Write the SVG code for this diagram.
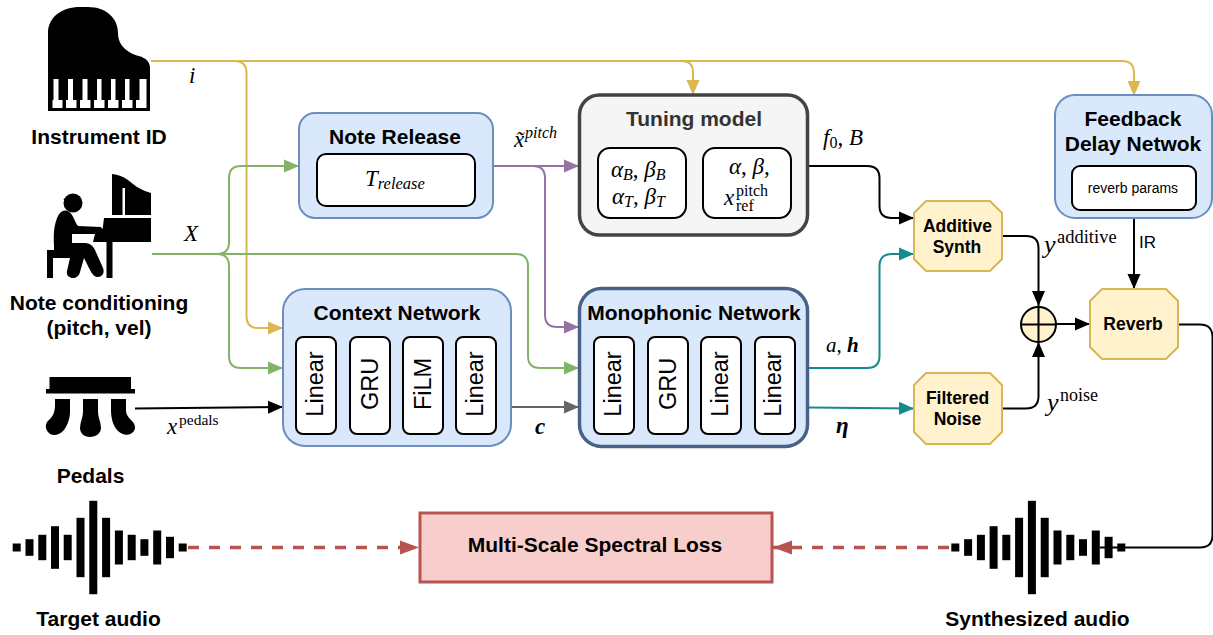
<svg xmlns="http://www.w3.org/2000/svg" width="1213" height="635" viewBox="0 0 1213 635">
<style>
text{font-family:"Liberation Sans",Arial,sans-serif;fill:#000}
.t{font-weight:bold;text-anchor:middle}
.m{font-family:"Liberation Serif","DejaVu Serif",serif;font-style:italic;font-size:23px}
.r{font-family:"Liberation Serif","DejaVu Serif",serif;font-style:normal}
.blue{fill:#dae8fc;stroke:#6c8ebf;stroke-width:2}
.in{fill:#fff;stroke:#000;stroke-width:2}
.oct{fill:#fff2cc;stroke:#d6b656;stroke-width:2}
.c{fill:none;stroke-width:2}
.l{font-size:23.5px;text-anchor:middle}
.b{fill:#000}
</style>
<defs>
<marker id="ak" markerUnits="userSpaceOnUse" markerWidth="16" markerHeight="14" refX="15" refY="7" orient="auto"><path d="M0,0.5 L15,7 L0,13.5Z" fill="#000"/></marker>
<marker id="ay" markerUnits="userSpaceOnUse" markerWidth="16" markerHeight="14" refX="15" refY="7" orient="auto"><path d="M0,0.5 L15,7 L0,13.5Z" fill="#dcb651"/></marker>
<marker id="ag" markerUnits="userSpaceOnUse" markerWidth="16" markerHeight="14" refX="15" refY="7" orient="auto"><path d="M0,0.5 L15,7 L0,13.5Z" fill="#82b366"/></marker>
<marker id="ap" markerUnits="userSpaceOnUse" markerWidth="16" markerHeight="14" refX="15" refY="7" orient="auto"><path d="M0,0.5 L15,7 L0,13.5Z" fill="#9673a6"/></marker>
<marker id="at" markerUnits="userSpaceOnUse" markerWidth="16" markerHeight="14" refX="15" refY="7" orient="auto"><path d="M0,0.5 L15,7 L0,13.5Z" fill="#128a8e"/></marker>
<marker id="an" markerUnits="userSpaceOnUse" markerWidth="16" markerHeight="14" refX="15" refY="7" orient="auto"><path d="M0,0.5 L15,7 L0,13.5Z" fill="#666"/></marker>
<marker id="ar" markerUnits="userSpaceOnUse" markerWidth="20" markerHeight="16" refX="19" refY="8" orient="auto"><path d="M0,1 L19,8 L0,15Z" fill="#b85450"/></marker>
<g id="wave" class="b">
<rect x="0" y="-4" width="8" height="8"/><rect x="12.8" y="-8.3" width="8" height="16.6"/><rect x="25.6" y="-12.7" width="8" height="25.4"/><rect x="38.3" y="-21.3" width="8" height="42.6"/><rect x="51" y="-12.7" width="8" height="25.4"/><rect x="63.8" y="-29.7" width="8" height="59.4"/><rect x="76.6" y="-46.7" width="8" height="93.4"/><rect x="89.4" y="-29.7" width="8" height="59.4"/><rect x="102.2" y="-17" width="8" height="34"/><rect x="115" y="-12.7" width="8" height="25.4"/><rect x="127.7" y="-8.3" width="8" height="16.6"/><rect x="140.5" y="-17" width="8" height="34"/><rect x="153.3" y="-10.7" width="8" height="21.4"/><rect x="166" y="-4" width="8" height="8"/>
</g>
</defs>

<g id="connectors">
<path class="c" stroke="#dcb651" d="M151,61 H234 Q246.5,61 246.5,73 V316 Q246.5,328 258,328 H283" marker-end="url(#ay)"/>
<path class="c" stroke="#dcb651" d="M220,61 H682 Q693,61 693,72 V95" marker-end="url(#ay)"/>
<path class="c" stroke="#dcb651" d="M680,61 H1122 Q1134,61 1134,73 V96" marker-end="url(#ay)"/>
<path class="c" stroke="#82b366" d="M152,254 H217 Q229,254 229,242 V178 Q229,166 241,166 H299" marker-end="url(#ag)"/>
<path class="c" stroke="#82b366" d="M152,254 H217 Q229,254 229,266 V356 Q229,368 241,368 H283" marker-end="url(#ag)"/>
<path class="c" stroke="#82b366" d="M200,254 H516 Q528,254 528,266 V356 Q528,368 540,368 H579" marker-end="url(#ag)"/>
<path class="c" stroke="#9673a6" d="M493,166 H579" marker-end="url(#ap)"/>
<path class="c" stroke="#9673a6" d="M530,166 H533 Q545,166 545,178 V315 Q545,327 557,327 H579" marker-end="url(#ap)"/>
<path class="c" stroke="#000" d="M135,408.5 L283,407" marker-end="url(#ak)"/>
<path class="c" stroke="#666" d="M511,407 H579" marker-end="url(#an)"/>
<path class="c" stroke="#000" d="M809,166 H867 Q879.5,166 879.5,178 V206 Q879.5,218 892,218 H914" marker-end="url(#ak)"/>
<path class="c" stroke="#128a8e" d="M809,368 H867 Q879.5,368 879.5,356 V266 Q879.5,254 892,254 H914" marker-end="url(#at)"/>
<path class="c" stroke="#128a8e" d="M809,407.5 L914,408.5" marker-end="url(#at)"/>
<path class="c" stroke="#000" d="M1002,236 H1026 Q1038.5,236 1038.5,248 V306" marker-end="url(#ak)"/>
<path class="c" stroke="#000" d="M1002,408.5 H1026 Q1038.5,408.5 1038.5,396 V342" marker-end="url(#ak)"/>
<path class="c" stroke="#000" d="M1056,324 H1090" marker-end="url(#ak)"/>
<path class="c" stroke="#000" d="M1134,218 V289" marker-end="url(#ak)"/>
<path class="c" stroke="#000" d="M1178,324.5 H1200 Q1212.5,324.5 1212.5,337 V535 Q1212.5,547.5 1200,547.5 H1100"/>
<path fill="none" stroke="#b85450" stroke-width="3.5" stroke-dasharray="11 10" d="M188,547.5 H419" marker-end="url(#ar)"/>
<path fill="none" stroke="#b85450" stroke-width="3.5" stroke-dasharray="11 10" d="M949,547.5 H773" marker-end="url(#ar)"/>
</g>

<g id="instrument">
<path class="b" d="M48,111 V33 C48,17 62,7 80,7 H88 C106,7 118,18 118,33 C118,46 128,53 139,56 C146,58 150,62 150,68 V111Z"/>
<path fill="#fff" d="M52.5,100 H53.5 V79 H58.5 V100 H62.5 V108 H52.5Z M66,100 H68 V79 H73 V100 H76.5 V108 H66Z M80,100 H82.5 V79 H87.5 V100 H90.5 V108 H80Z M94,100 H97 V79 H101.5 V100 H104.5 V108 H94Z M108,100 H111 V79 H115.5 V100 H118.5 V108 H108Z M122,100 H125 V79 H129.5 V100 H132.5 V108 H122Z M136,100 H139.5 V79 H146.5 V108 H136Z"/>
<text class="t" x="99" y="144" font-size="21">Instrument ID</text>
</g>

<g id="note-conditioning">
<path class="b" d="M112,174 C125,175 131,183 137,187 C142,190 147,192 151,193 V215 H125 V188 H122.5 V215 H112Z"/>
<path class="b" d="M104,218 H151 V242 H112.5 V278 H106.5 V242 H93 L95,234 C100,233 103,230 103,226Z"/>
<ellipse class="b" cx="73" cy="203" rx="9.5" ry="9.5"/>
<path class="b" d="M63.5,199 L74,194 L76,208 L68,208Z"/>
<path class="b" d="M54,245 C53,232 55,219 60,213 C64,209 69,210 72,215 C75,220 76,224 78,226 L101,227 L104,232 L97,234 L72,234 V243 H85 C90,243 93,246 95,250 L103,268 C105,273 102,277 98,277 C95,277 93,275 91,272 L84,258 L80,272 C79,276 76,278 73,278 C69,278 66,275 67,271 L70,258 H54Z"/>
<path class="b" d="M47,250 H70 V258 H53 V278 H47Z"/>
<text class="t" x="99" y="310" font-size="21">Note conditioning</text>
<text class="t" x="99" y="335" font-size="21">(pitch, vel)</text>
</g>

<g id="pedals">
<rect class="b" x="49.5" y="377" width="81.5" height="12"/>
<rect class="b" x="46" y="389" width="89" height="4.5"/>
<path class="b" d="M55,399 H70 V412 C70,420 66,428 63,431 C58,436 51,436 48,432 C44,427 46,422 50,419 C54,415 55,410 55,405Z"/>
<path class="b" d="M83,399 H98 V412 C98,417 101,423 101,428 C101,433 96,437 90,437 C84,437 80,433 80,428 C80,423 83,417 83,412Z"/>
<path class="b" d="M111,399 H126 V410 C126,415 129,418 132,421 C136,425 136,430 132,433 C128,436 122,435 118,431 C113,426 111,418 111,410Z"/>
<text class="t" x="90.5" y="483" font-size="21">Pedals</text>
</g>

<g id="note-release">
<rect class="blue" x="299" y="113" width="194" height="105" rx="16"/>
<rect class="in" x="317" y="154" width="158" height="52" rx="9"/>
<text class="t" x="395" y="144" font-size="21">Note Release</text>
<text class="m" x="365" y="186">T<tspan font-size="16.5" dy="3" style="font-size:16.5px">release</tspan></text>
</g>

<g id="tuning-model">
<rect x="579.5" y="95" width="228" height="140" rx="20" fill="#f5f5f5" stroke="#444" stroke-width="3.5"/>
<rect class="in" x="598" y="148" width="88" height="70" rx="12"/>
<rect class="in" x="703" y="148" width="88" height="70" rx="12"/>
<text class="t" x="694" y="126" font-size="21" style="fill:#333">Tuning model</text>
<text class="m" x="611" y="177">α<tspan font-size="16" dy="3">B</tspan><tspan dy="-3" class="r">, </tspan>β<tspan font-size="16" dy="3">B</tspan></text>
<text class="m" x="612" y="204">α<tspan font-size="16" dy="3">T</tspan><tspan dy="-3" class="r">, </tspan>β<tspan font-size="16" dy="3">T</tspan></text>
<text class="m" x="729" y="174">α<tspan class="r">, </tspan>β<tspan class="r">,</tspan></text>
<text class="m" x="724" y="205">x</text>
<text class="r" x="736" y="196" font-size="16">pitch</text>
<text class="r" x="736" y="211" font-size="16">ref</text>
</g>

<g id="feedback-delay-network">
<rect class="blue" x="1055" y="95" width="157" height="123" rx="20"/>
<rect class="in" x="1072" y="166" width="124" height="44" rx="8"/>
<text class="t" x="1133" y="125.5" font-size="21">Feedback</text>
<text class="t" x="1133" y="150.5" font-size="21">Delay Netwok</text>
<text x="1133" y="193" font-size="14" text-anchor="middle">reverb params</text>
</g>

<g id="context-network">
<rect class="blue" x="283" y="289" width="228" height="157" rx="22"/>
<text class="t" x="397" y="320" font-size="21">Context Network</text>
<rect class="in" x="296" y="337" width="40" height="97" rx="7"/>
<rect class="in" x="350" y="337" width="40" height="97" rx="7"/>
<rect class="in" x="403" y="337" width="40" height="97" rx="7"/>
<rect class="in" x="456" y="337" width="40" height="97" rx="7"/>
<text class="l" transform="translate(323,384) rotate(-90)">Linear</text>
<text class="l" transform="translate(378,384) rotate(-90)">GRU</text>
<text class="l" transform="translate(431,384) rotate(-90)">FiLM</text>
<text class="l" transform="translate(483,384) rotate(-90)">Linear</text>
</g>

<g id="monophonic-network">
<rect x="579.5" y="288.5" width="228" height="158" rx="22" fill="#dae8fc" stroke="#4a6288" stroke-width="3.5"/>
<text class="t" x="694" y="320" font-size="21">Monophonic Network</text>
<rect class="in" x="594" y="337" width="40" height="97" rx="7"/>
<rect class="in" x="648" y="337" width="40" height="97" rx="7"/>
<rect class="in" x="701" y="337" width="40" height="97" rx="7"/>
<rect class="in" x="755" y="337" width="40" height="97" rx="7"/>
<text class="l" transform="translate(621,384) rotate(-90)">Linear</text>
<text class="l" transform="translate(676,384) rotate(-90)">GRU</text>
<text class="l" transform="translate(728,384) rotate(-90)">Linear</text>
<text class="l" transform="translate(781,384) rotate(-90)">Linear</text>
</g>

<g id="additive-synth">
<path class="oct" d="M926,201 H990 L1002,213 V259 L990,271 H926 L914,259 V213Z"/>
<text class="t" x="957.5" y="232" font-size="17.5">Additive</text>
<text class="t" x="957" y="253" font-size="17.5">Synth</text>
</g>
<g id="filtered-noise">
<path class="oct" d="M926,373 H990 L1002,385 V432 L990,444 H926 L914,432 V385Z"/>
<text class="t" x="957.5" y="404" font-size="17.5">Filtered</text>
<text class="t" x="957.5" y="425" font-size="17.5">Noise</text>
</g>
<g id="reverb">
<path class="oct" d="M1102,289 H1166 L1178,301 V347 L1166,359 H1102 L1090,347 V301Z"/>
<text class="t" x="1133" y="330" font-size="17.5">Reverb</text>
</g>
<g id="sum">
<circle cx="1038.5" cy="324.5" r="17.5" fill="#fff2cc" stroke="#000" stroke-width="2"/>
<path d="M1021,324.5 H1056 M1038.5,307 V342" stroke="#000" stroke-width="2" fill="none"/>
</g>

<g id="loss">
<rect x="420" y="513" width="352" height="69" fill="#f8cecc" stroke="#b85450" stroke-width="3"/>
<text class="t" x="595" y="552" font-size="21">Multi-Scale Spectral Loss</text>
</g>

<g id="target-audio">
<use href="#wave" x="12.7" y="547.5"/>
<text class="t" x="98.5" y="626" font-size="21">Target audio</text>
</g>
<g id="synth-audio">
<use href="#wave" x="951.3" y="547.5"/>
<text class="t" x="1037.5" y="626" font-size="21">Synthesized audio</text>
</g>

<g id="labels">
<text class="m" x="189" y="83">i</text>
<text class="m" x="184" y="241">X</text>
<text class="m" x="167" y="434">x</text>
<text class="r" x="179" y="425" font-size="15.5">pedals</text>
<text class="m" x="514" y="147">x̃</text>
<text class="m" x="525" y="138" style="font-size:16px">pitch</text>
<text class="m" x="823" y="145">f<tspan font-size="16" class="r" dy="3">0</tspan><tspan dy="-3" class="r">, </tspan>B</text>
<text class="m" x="826" y="352" style="font-size:21px">a<tspan class="r">, </tspan><tspan font-weight="bold">h</tspan></text>
<text class="m" x="535" y="434" font-weight="bold">c</text>
<text class="m" x="836" y="433" font-weight="bold">η</text>
<text class="m" x="1044" y="253" style="font-size:26px">y</text>
<text class="r" x="1057" y="243" font-size="18.5">additive</text>
<text class="m" x="1047" y="411" style="font-size:26px">y</text>
<text class="r" x="1060" y="401" font-size="18">noise</text>
<text x="1139" y="248" font-size="17">IR</text>
</g>
</svg>
